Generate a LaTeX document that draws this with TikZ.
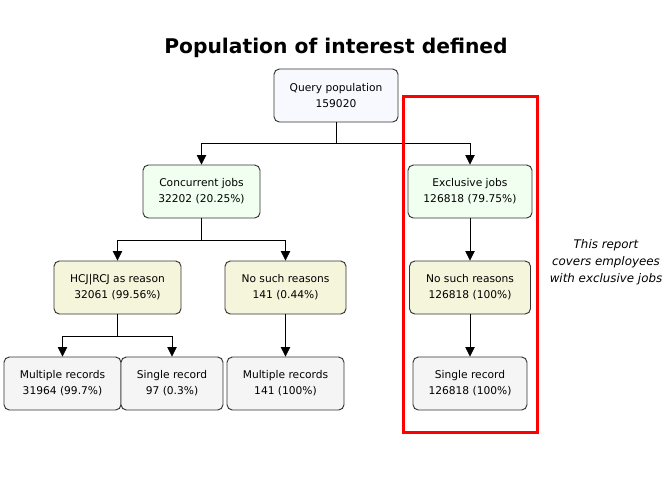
\documentclass[tikz,border=0pt]{standalone}
\usepackage{fontspec}
\setmainfont{DejaVu Sans}
\usetikzlibrary{positioning,arrows.meta,calc}
\definecolor{qcol}{HTML}{F8F8FF}
\definecolor{jobcol}{HTML}{F0FFF0}
\definecolor{rsncol}{HTML}{F5F5DC}
\definecolor{reccol}{HTML}{F5F5F5}
\definecolor{edgecol}{HTML}{333333}
\tikzset{
  box/.style={draw=edgecol, line width=0.7pt, rounded corners=4pt, align=center,
    minimum height=39.75pt, inner sep=2pt, font=\fontsize{8}{12}\selectfont},
  link/.style={-{Triangle[length=7pt,width=7pt]}, line width=0.6pt, black},
}
\begin{document}
\begin{tikzpicture}[x=0.75pt,y=-0.75pt]
      \useasboundingbox (0,0) rectangle (672,480);
      \node[font=\fontsize{15.2}{17}\bfseries\selectfont] (T) at (336,48) {Population of interest defined};
      % top level
      \node[box, fill=qcol, minimum width=93pt] (Q) at (336,95.5) {Query population\\159020};
      \node[box, fill=jobcol, minimum width=87.75pt] (CJ) at (201.5,191.5) {Concurrent jobs\\32202 (20.25\%)};
      \node[box, fill=jobcol, minimum width=93pt] (EJ) at (470,191.5) {Exclusive jobs\\126818 (79.75\%)};
      % reasons
      \node[box, fill=rsncol, minimum width=95.25pt] (HR) at (117.5,287.5) {HCJ|RCJ as reason\\32061 (99.56\%)};
      \node[box, fill=rsncol, minimum width=90.75pt] (NR) at (285.5,287.5) {No such reasons\\141 (0.44\%)};
      \node[box, fill=rsncol, minimum width=90.75pt] (NRx) at (470,287.5) {No such reasons\\126818 (100\%)};
      % records
      \node[box, fill=reccol, minimum width=87.75pt] (MR) at (62.5,383.5) {Multiple records\\31964 (99.7\%)};
      \node[box, fill=reccol, minimum width=76.5pt] (SR) at (172,383.5) {Single record\\97 (0.3\%)};
      \node[box, fill=reccol, minimum width=87.75pt] (MRn) at (285.5,383.5) {Multiple records\\141 (100\%)};
      \node[box, fill=reccol, minimum width=85.5pt] (SRx) at (470,383.5) {Single record\\126818 (100\%)};
      % connectors
      \draw[link] (Q.south) -- ++(0,21) -| (CJ.north);
      \draw[link] (Q.south) -- ++(0,21) -| (EJ.north);
      \draw[link] (CJ.south) -- ++(0,22) -| (HR.north);
      \draw[link] (CJ.south) -- ++(0,22) -| (NR.north);
      \draw[link] (HR.south) -- ++(0,22) -| (MR.north);
      \draw[link] (HR.south) -- ++(0,22) -| (SR.north);
      \draw[link] (NR) -- (MRn);
      \draw[link] (EJ) -- (NRx);
      \draw[link] (NRx) -- (SRx);
      % highlight
      \draw[red, line width=2.25pt] (403,96) rectangle (537,432);
      \node[align=center, font=\fontsize{8.9}{12.75}\itshape\selectfont] (N) at (606,262) {This report\\covers employees\\with exclusive jobs};
    \end{tikzpicture}
\end{document}
